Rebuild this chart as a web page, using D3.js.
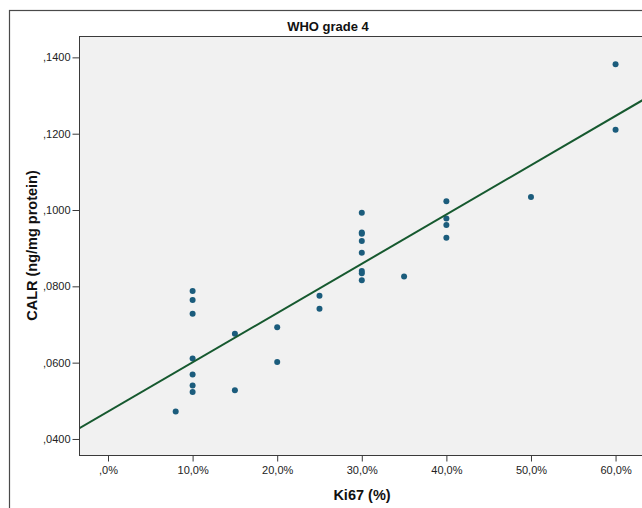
<!DOCTYPE html>
<html>
<head>
<meta charset="utf-8">
<script src="https://cdn.jsdelivr.net/npm/d3@7"></script>
<style>
  html, body { margin: 0; padding: 0; background: #ffffff; }
  svg { display: block; font-family: "Liberation Sans", Arial, sans-serif; }
</style>
</head>
<body>
<svg id="chart" width="642" height="508"></svg>
<script>
// ---- data ----
const title = "WHO grade 4";
const xTitle = "Ki67 (%)";
const yTitle = "CALR (ng/mg protein)";
const ki67 = [8, 10, 10, 10, 10, 10, 10, 10, 15, 15, 20, 20, 25, 25,
              30, 30, 30, 30, 30, 30, 30, 30, 35, 40, 40, 40, 40, 50, 60, 60];
const calr = [0.0472, 0.0788, 0.0764, 0.0728, 0.0611, 0.0569, 0.0540, 0.0523,
              0.0676, 0.0528, 0.0693, 0.0602, 0.0775, 0.0741,
              0.0993, 0.0941, 0.0938, 0.0919, 0.0888, 0.0840, 0.0834, 0.0816,
              0.0826, 0.1023, 0.0978, 0.0961, 0.0927, 0.1034, 0.1382, 0.1210];
const xTicks = [0, 10, 20, 30, 40, 50, 60];
const yTicks = [0.04, 0.06, 0.08, 0.10, 0.12, 0.14];
const xDomain = [-3.43, 63.48];
const yDomain = [0.0358, 0.1456];

// ---- layout ----
const svg = d3.select("#chart");
const plot = { left: 79, top: 36, right: 645, bottom: 455 };

const x = d3.scaleLinear().domain(xDomain).range([plot.left, plot.right]);
const y = d3.scaleLinear().domain(yDomain).range([plot.bottom, plot.top]);

// outer frame
svg.append("rect")
  .attr("x", 9.5).attr("y", 10.5)
  .attr("width", 640).attr("height", 520)
  .attr("fill", "#ffffff").attr("stroke", "#4a4a4a").attr("stroke-width", 1.2);

// plot background
svg.append("rect")
  .attr("x", plot.left + 0.5).attr("y", plot.top + 0.5)
  .attr("width", plot.right - plot.left).attr("height", plot.bottom - plot.top)
  .attr("fill", "#f1f1f1").attr("stroke", "#3a3a3a").attr("stroke-width", 1);

// title
svg.append("text")
  .attr("x", 328).attr("y", 31)
  .attr("text-anchor", "middle")
  .attr("font-size", 13).attr("font-weight", "bold").attr("fill", "#111")
  .text(title);

// axes
const fmtY = v => v.toFixed(4).replace(/^0/, "").replace(".", ",");
const fmtX = v => v.toFixed(1).replace(/^0/, "").replace(".", ",") + "%";

const yAxis = svg.append("g")
  .attr("transform", `translate(${plot.left + 0.5},0)`)
  .call(d3.axisLeft(y).tickValues(yTicks).tickFormat(fmtY).tickSize(7).tickPadding(2));
const xAxis = svg.append("g")
  .attr("transform", `translate(0,${plot.bottom + 0.5})`)
  .call(d3.axisBottom(x).tickValues(xTicks).tickFormat(fmtX).tickSize(6).tickPadding(5));

[yAxis, xAxis].forEach(g => {
  g.select(".domain").remove();
  g.selectAll(".tick line").attr("stroke", "#3a3a3a");
  g.selectAll(".tick text")
    .attr("font-family", "'Liberation Sans', Arial, sans-serif")
    .attr("font-size", 11).attr("fill", "#222");
});

// axis titles
svg.append("text")
  .attr("transform", `translate(37,${(plot.top + plot.bottom) / 2}) rotate(-90)`)
  .attr("text-anchor", "middle")
  .attr("font-size", 14.5).attr("font-weight", "bold").attr("fill", "#111")
  .text(yTitle);
svg.append("text")
  .attr("x", (plot.left + plot.right) / 2).attr("y", 500)
  .attr("text-anchor", "middle")
  .attr("font-size", 14.5).attr("font-weight", "bold").attr("fill", "#111")
  .text(xTitle);

// clip for plot area
svg.append("clipPath").attr("id", "plotclip")
  .append("rect")
  .attr("x", plot.left + 1).attr("y", plot.top + 1)
  .attr("width", plot.right - plot.left - 1).attr("height", plot.bottom - plot.top - 1);

// least squares fit line
const mx = d3.mean(ki67), my = d3.mean(calr);
let sxy = 0, sxx = 0;
ki67.forEach((xi, i) => { sxy += (xi - mx) * (calr[i] - my); sxx += (xi - mx) * (xi - mx); });
const slope = sxy / sxx;
const intercept = my - slope * mx;
const fit = xDomain.map(v => [v, intercept + slope * v]);

const pts = ki67.map((k, i) => ({ k, c: calr[i] }));
const layer = svg.append("g").attr("clip-path", "url(#plotclip)");

layer.selectAll("circle").data(pts).join("circle")
  .attr("cx", d => x(d.k)).attr("cy", d => y(d.c))
  .attr("r", 3)
  .attr("fill", "#1b5c7c");

layer.append("path")
  .datum(fit)
  .attr("d", d3.line().x(d => x(d[0])).y(d => y(d[1])))
  .attr("fill", "none").attr("stroke", "#16592f").attr("stroke-width", 2);
</script>
</body>
</html>
